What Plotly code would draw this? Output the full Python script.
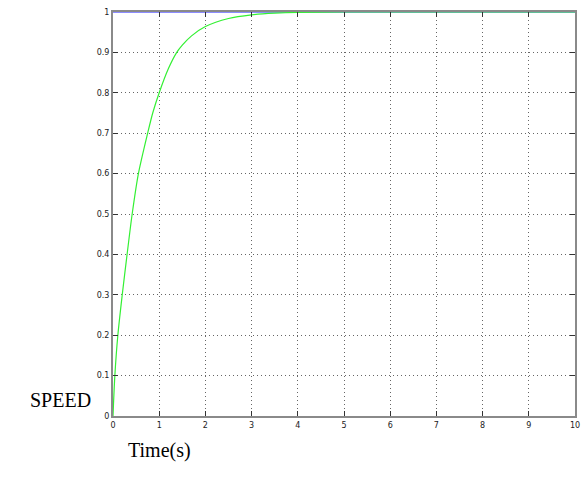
import plotly.graph_objects as go

# Reference (blue) level
ref_t = [0, 10]
ref_speed = [1, 1]

# Speed response (green)
resp_t = [0, 0.04, 0.105, 0.2, 0.305, 0.415, 0.55, 0.75, 0.86, 1.0, 1.2, 1.38, 1.5, 1.7, 2.0, 2.5, 3.0, 3.5, 4.0, 5.0, 6.0, 7.0, 8.0, 9.0, 10.0]
resp_speed = [0, 0.1, 0.2, 0.3, 0.4, 0.5, 0.6, 0.7, 0.75, 0.8, 0.86, 0.9, 0.918, 0.941, 0.964, 0.984, 0.993, 0.997, 0.999, 1.0, 1.0, 1.0, 1.0, 1.0, 1.0]

x_ticks = list(range(0, 11))
y_ticks = [0, 0.1, 0.2, 0.3, 0.4, 0.5, 0.6, 0.7, 0.8, 0.9, 1]
y_tick_text = ["0", "0.1", "0.2", "0.3", "0.4", "0.5", "0.6", "0.7", "0.8", "0.9", "1"]

fig = go.Figure()
fig.add_trace(go.Scatter(x=ref_t, y=ref_speed, mode="lines",
                         line=dict(color="#8c8cff", width=2), showlegend=False))
fig.add_trace(go.Scatter(x=resp_t, y=resp_speed, mode="lines",
                         line=dict(color="#33f033", width=1.2, shape="spline", smoothing=0.8),
                         showlegend=False))

axis_common = dict(
    showgrid=True, gridcolor="#666666", griddash="1px,3px", gridwidth=1,
    showline=True, linecolor="#8a8a8a", linewidth=2, mirror="ticks",
    ticks="inside", ticklen=5, tickcolor="#333333",
    tickfont=dict(family="DejaVu Sans", size=8, color="#222222"),
    zeroline=False, automargin=False,
)

fig.update_xaxes(range=[0, 10], tickvals=x_ticks, **axis_common)
fig.update_yaxes(range=[0, 1], tickvals=y_ticks, ticktext=y_tick_text, **axis_common)

fig.add_annotation(text="SPEED", xref="paper", yref="paper", x=-0.043, y=0.04,
                   xanchor="right", yanchor="middle", showarrow=False,
                   font=dict(family="Liberation Serif", size=20, color="black"))
fig.add_annotation(text="Time(s)", xref="paper", yref="paper", x=0.10, y=-0.052,
                   xanchor="center", yanchor="top", showarrow=False,
                   font=dict(family="Liberation Serif", size=20, color="black"))

fig.update_layout(
    width=581, height=486,
    margin=dict(l=113, r=6, t=12, b=70),
    paper_bgcolor="white", plot_bgcolor="white",
)

fig.write_html("out.html", config={"displayModeBar": False},
               post_script="document.body.style.margin='0';")
